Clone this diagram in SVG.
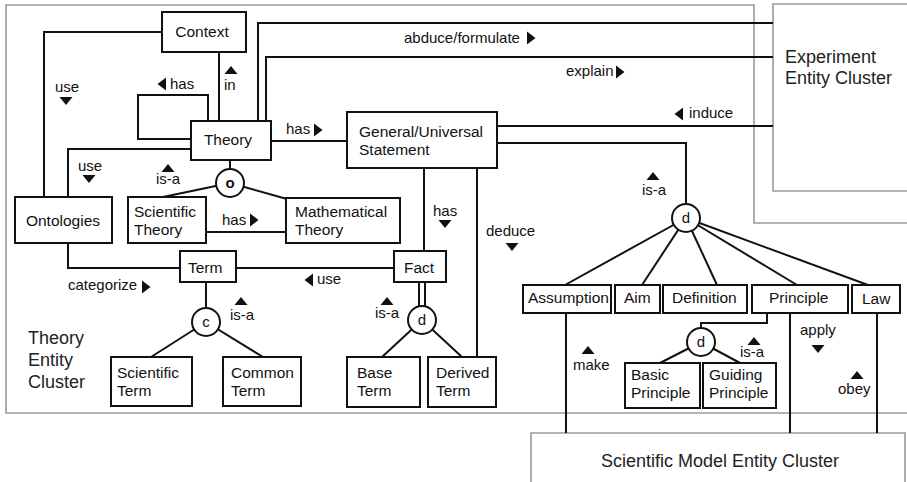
<svg xmlns="http://www.w3.org/2000/svg" xmlns:xlink="http://www.w3.org/1999/xlink" width="907" height="482" viewBox="0 0 907 482">
  <style>
    .frame { fill: none; stroke: #9a9a9a; stroke-width: 1.6; }
    .box { fill: #fff; stroke: #111; stroke-width: 2; }
    .line { fill: none; stroke: #111; stroke-width: 2; }
    .hub { fill: #fff; stroke: #111; stroke-width: 2; }
    text { font-family: "Liberation Sans", Arial, sans-serif; fill: #111; }
    .name { font-size: 15.5px; }
    .rel { font-size: 15px; }
    .cluster { font-size: 18px; fill: #222; }
    .hubtxt { font-size: 15px; text-anchor: middle; }
    .tri { fill: #111; }
  </style>
  <defs>
    <polygon id="tri-up" class="tri" points="-6.5,4 6.5,4 0,-4"/>
    <polygon id="tri-down" class="tri" points="-6.5,-4 6.5,-4 0,4"/>
    <polygon id="tri-right" class="tri" points="-4,-6.5 4.5,0 -4,6.5"/>
    <polygon id="tri-left" class="tri" points="4,-6.5 -4.5,0 4,6.5"/>
  </defs>

  <!-- cluster frames -->
  <g id="clusters">
    <path class="frame" d="M907,223 H754 V5 H6 V413 H907"/>
    <path class="frame" d="M907,191 H773 V4 H907"/>
    <path class="frame" d="M531,482 V433 H905 V482"/>
    <text class="cluster" x="28" y="344">Theory</text>
    <text class="cluster" x="28" y="366">Entity</text>
    <text class="cluster" x="28" y="388">Cluster</text>
    <text class="cluster" x="785" y="63">Experiment</text>
    <text class="cluster" x="785" y="84">Entity Cluster</text>
    <text class="cluster" x="720" y="467" text-anchor="middle">Scientific Model Entity Cluster</text>
  </g>

  <!-- connectors -->
  <g id="connectors">
    <path class="line" d="M219,52 V121"/>
    <path class="line" d="M208,121 V95 H138 V139 H191"/>
    <path class="line" d="M162,32 H44 V197"/>
    <path class="line" d="M191,149 H68 V197"/>
    <path class="line" d="M230,160 V183"/>
    <path class="line" d="M230,183 L163,197"/>
    <path class="line" d="M230,183 L287,199"/>
    <path class="line" d="M206,232 H286"/>
    <path class="line" d="M258,121 V23 H773"/>
    <path class="line" d="M266,121 V57 H773"/>
    <path class="line" d="M271,141 H347"/>
    <path class="line" d="M497,126 H773"/>
    <path class="line" d="M497,143 H686 V218"/>
    <path class="line" d="M686,218 L565,285"/>
    <path class="line" d="M686,218 L642,285"/>
    <path class="line" d="M686,218 L717,285"/>
    <path class="line" d="M686,218 L797,285"/>
    <path class="line" d="M686,218 L868,285"/>
    <path class="line" d="M424,168 V251"/>
    <path class="line" d="M477,168 V357"/>
    <path class="line" d="M68,243 V268 H180"/>
    <path class="line" d="M236,268 H394"/>
    <path class="line" d="M206,282 V322"/>
    <path class="line" d="M206,322 L151,357"/>
    <path class="line" d="M206,322 L263,357"/>
    <path class="line" d="M419,282 V310"/>
    <path class="line" d="M425,282 V310"/>
    <path class="line" d="M422,320 L382,357"/>
    <path class="line" d="M422,320 L462,357"/>
    <path class="line" d="M566,313 V433"/>
    <path class="line" d="M767,313 V323 H701 V342"/>
    <path class="line" d="M701,342 L660,363"/>
    <path class="line" d="M701,342 L740,363"/>
    <path class="line" d="M790,313 V433"/>
    <path class="line" d="M877,313 V433"/>
  </g>

  <!-- relationship labels -->
  <g id="labels">
    <use xlink:href="#tri-up" x="231" y="70"/>
    <text class="rel" x="224" y="90">in</text>
    <use xlink:href="#tri-left" x="162" y="84"/>
    <text class="rel" x="170" y="89">has</text>
    <text class="rel" x="55" y="92">use</text>
    <use xlink:href="#tri-down" x="66" y="101"/>
    <text class="rel" x="78" y="171">use</text>
    <use xlink:href="#tri-down" x="89" y="179"/>
    <use xlink:href="#tri-up" x="168" y="168"/>
    <text class="rel" x="156" y="184">is-a</text>
    <text class="rel" x="286" y="134">has</text>
    <use xlink:href="#tri-right" x="318" y="130"/>
    <text class="rel" x="404" y="43">abduce/formulate</text>
    <use xlink:href="#tri-right" x="531" y="38"/>
    <text class="rel" x="566" y="76">explain</text>
    <use xlink:href="#tri-right" x="620" y="72"/>
    <use xlink:href="#tri-left" x="679" y="114"/>
    <text class="rel" x="689" y="118">induce</text>
    <use xlink:href="#tri-up" x="653" y="176"/>
    <text class="rel" x="642" y="195">is-a</text>
    <text class="rel" x="222" y="225">has</text>
    <use xlink:href="#tri-right" x="254" y="220"/>
    <text class="rel" x="433" y="216">has</text>
    <use xlink:href="#tri-down" x="445" y="224"/>
    <text class="rel" x="486" y="236">deduce</text>
    <use xlink:href="#tri-down" x="512" y="247"/>
    <use xlink:href="#tri-left" x="309" y="280"/>
    <text class="rel" x="317" y="284">use</text>
    <use xlink:href="#tri-up" x="387" y="301"/>
    <text class="rel" x="375" y="318">is-a</text>
    <text class="rel" x="68" y="290">categorize</text>
    <use xlink:href="#tri-right" x="146" y="287"/>
    <use xlink:href="#tri-up" x="241" y="301"/>
    <text class="rel" x="230" y="320">is-a</text>
    <use xlink:href="#tri-up" x="588" y="350"/>
    <text class="rel" x="573" y="370">make</text>
    <use xlink:href="#tri-up" x="754" y="341"/>
    <text class="rel" x="740" y="357">is-a</text>
    <text class="rel" x="800" y="335">apply</text>
    <use xlink:href="#tri-down" x="818" y="349"/>
    <use xlink:href="#tri-up" x="857" y="375"/>
    <text class="rel" x="838" y="394">obey</text>
  </g>

  <!-- entities -->
  <g id="context">
    <rect class="box" x="162" y="12" width="84" height="40"/>
    <text class="name" x="202" y="37" text-anchor="middle">Context</text>
  </g>
  <g id="theory">
    <rect class="box" x="191" y="121" width="80" height="39"/>
    <text class="name" x="228" y="145" text-anchor="middle">Theory</text>
  </g>
  <g id="general-universal-statement">
    <rect class="box" x="347" y="112" width="150" height="56"/>
    <text class="name" x="359" y="137">General/Universal</text>
    <text class="name" x="359" y="155">Statement</text>
  </g>
  <g id="ontologies">
    <rect class="box" x="15" y="197" width="97" height="46"/>
    <text class="name" x="63" y="226" text-anchor="middle">Ontologies</text>
  </g>
  <g id="scientific-theory">
    <rect class="box" x="128" y="197" width="78" height="46"/>
    <text class="name" x="134" y="217">Scientific</text>
    <text class="name" x="134" y="235">Theory</text>
  </g>
  <g id="mathematical-theory">
    <rect class="box" x="286" y="198" width="114" height="45"/>
    <text class="name" x="295" y="217">Mathematical</text>
    <text class="name" x="295" y="235">Theory</text>
  </g>
  <g id="term">
    <rect class="box" x="180" y="251" width="56" height="31"/>
    <text class="name" x="188" y="273">Term</text>
  </g>
  <g id="fact">
    <rect class="box" x="394" y="251" width="52" height="31"/>
    <text class="name" x="404" y="273">Fact</text>
  </g>
  <g id="scientific-term">
    <rect class="box" x="111" y="357" width="81" height="49"/>
    <text class="name" x="117" y="378">Scientific</text>
    <text class="name" x="117" y="396">Term</text>
  </g>
  <g id="common-term">
    <rect class="box" x="223" y="357" width="78" height="49"/>
    <text class="name" x="231" y="378">Common</text>
    <text class="name" x="231" y="396">Term</text>
  </g>
  <g id="base-term">
    <rect class="box" x="347" y="357" width="73" height="50"/>
    <text class="name" x="357" y="378">Base</text>
    <text class="name" x="357" y="396">Term</text>
  </g>
  <g id="derived-term">
    <rect class="box" x="428" y="357" width="68" height="50"/>
    <text class="name" x="436" y="378">Derived</text>
    <text class="name" x="436" y="396">Term</text>
  </g>
  <g id="assumption">
    <rect class="box" x="523" y="285" width="88" height="28"/>
    <text class="name" x="528" y="303">Assumption</text>
  </g>
  <g id="aim">
    <rect class="box" x="615" y="285" width="45" height="28"/>
    <text class="name" x="624" y="303">Aim</text>
  </g>
  <g id="definition">
    <rect class="box" x="663" y="285" width="84" height="28"/>
    <text class="name" x="672" y="303">Definition</text>
  </g>
  <g id="principle">
    <rect class="box" x="752" y="285" width="96" height="28"/>
    <text class="name" x="769" y="303">Principle</text>
  </g>
  <g id="law">
    <rect class="box" x="852" y="285" width="48" height="28"/>
    <text class="name" x="862" y="304">Law</text>
  </g>
  <g id="basic-principle">
    <rect class="box" x="625" y="363" width="75" height="45"/>
    <text class="name" x="631" y="380">Basic</text>
    <text class="name" x="631" y="398">Principle</text>
  </g>
  <g id="guiding-principle">
    <rect class="box" x="703" y="363" width="73" height="45"/>
    <text class="name" x="709" y="380">Guiding</text>
    <text class="name" x="709" y="398">Principle</text>
  </g>

  <!-- specialization hubs -->
  <g id="hub-theory">
    <circle class="hub" cx="230" cy="183" r="14"/>
    <text class="hubtxt" x="230" y="188" font-weight="bold">o</text>
  </g>
  <g id="hub-statement">
    <circle class="hub" cx="686" cy="218" r="14"/>
    <text class="hubtxt" x="686" y="223">d</text>
  </g>
  <g id="hub-term">
    <circle class="hub" cx="206" cy="322" r="14"/>
    <text class="hubtxt" x="206" y="327">c</text>
  </g>
  <g id="hub-fact">
    <circle class="hub" cx="422" cy="320" r="14"/>
    <text class="hubtxt" x="422" y="325">d</text>
  </g>
  <g id="hub-principle">
    <circle class="hub" cx="701" cy="342" r="14"/>
    <text class="hubtxt" x="701" y="347">d</text>
  </g>
</svg>
